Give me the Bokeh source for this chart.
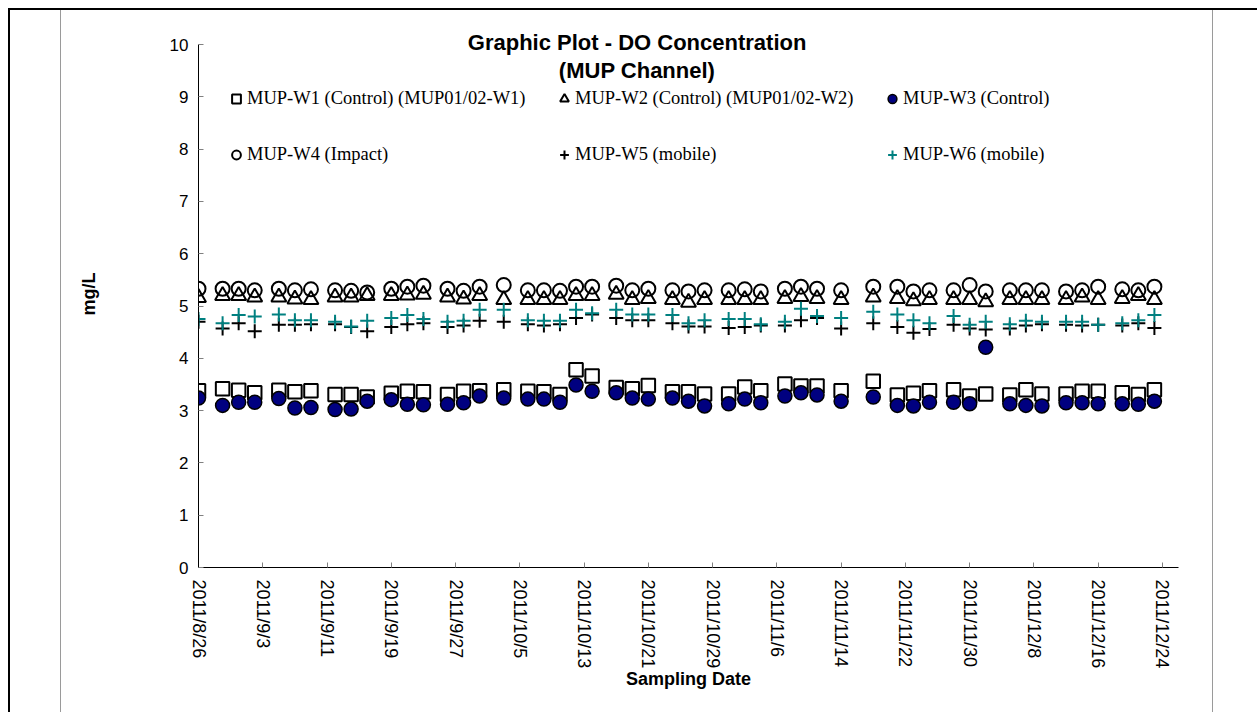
import pandas as pd
from bokeh.plotting import figure
from bokeh.models import FixedTicker, Legend, LegendItem, Label
from bokeh.embed import file_html
from bokeh.resources import INLINE

dates = ["2011-08-26", "2011-08-29", "2011-08-31", "2011-09-02", "2011-09-05", "2011-09-07", "2011-09-09",
         "2011-09-12", "2011-09-14", "2011-09-16", "2011-09-19", "2011-09-21", "2011-09-23", "2011-09-26",
         "2011-09-28", "2011-09-30", "2011-10-03", "2011-10-06", "2011-10-08", "2011-10-10", "2011-10-12",
         "2011-10-14", "2011-10-17", "2011-10-19", "2011-10-21", "2011-10-24", "2011-10-26", "2011-10-28",
         "2011-10-31", "2011-11-02", "2011-11-04", "2011-11-07", "2011-11-09", "2011-11-11", "2011-11-14",
         "2011-11-18", "2011-11-21", "2011-11-23", "2011-11-25", "2011-11-28", "2011-11-30", "2011-12-02",
         "2011-12-05", "2011-12-07", "2011-12-09", "2011-12-12", "2011-12-14", "2011-12-16", "2011-12-19",
         "2011-12-21", "2011-12-23"]

w1 = [3.38, 3.42, 3.39, 3.34, 3.39, 3.36, 3.38, 3.31, 3.31, 3.26, 3.33, 3.37, 3.36, 3.31, 3.37, 3.38, 3.40,
      3.37, 3.36, 3.31, 3.78, 3.66, 3.44, 3.42, 3.48, 3.36, 3.36, 3.32, 3.32, 3.45, 3.38, 3.51, 3.47, 3.47,
      3.38, 3.56, 3.30, 3.33, 3.38, 3.40, 3.28, 3.32, 3.30, 3.40, 3.32, 3.32, 3.37, 3.37, 3.34, 3.31, 3.40]
w2 = [5.16, 5.20, 5.20, 5.17, 5.17, 5.13, 5.12, 5.17, 5.17, 5.20, 5.20, 5.21, 5.22, 5.17, 5.13, 5.20, 5.12,
      5.12, 5.12, 5.12, 5.20, 5.20, 5.22, 5.12, 5.14, 5.12, 5.07, 5.12, 5.12, 5.12, 5.12, 5.14, 5.18, 5.14,
      5.12, 5.17, 5.14, 5.10, 5.12, 5.12, 5.12, 5.08, 5.12, 5.12, 5.12, 5.12, 5.17, 5.12, 5.14, 5.20, 5.12]
w3 = [3.24, 3.10, 3.16, 3.16, 3.23, 3.05, 3.06, 3.02, 3.03, 3.18, 3.21, 3.12, 3.11, 3.12, 3.15, 3.28, 3.24,
      3.22, 3.22, 3.16, 3.49, 3.37, 3.34, 3.24, 3.22, 3.24, 3.18, 3.09, 3.13, 3.22, 3.15, 3.28, 3.34, 3.30,
      3.18, 3.26, 3.10, 3.09, 3.16, 3.16, 3.13, 4.21, 3.13, 3.10, 3.09, 3.15, 3.15, 3.13, 3.13, 3.12, 3.18]
w4 = [5.33, 5.33, 5.33, 5.30, 5.33, 5.30, 5.32, 5.30, 5.29, 5.26, 5.33, 5.37, 5.39, 5.33, 5.29, 5.37, 5.40,
      5.30, 5.30, 5.29, 5.37, 5.37, 5.39, 5.30, 5.33, 5.30, 5.28, 5.30, 5.30, 5.32, 5.28, 5.33, 5.37, 5.33,
      5.30, 5.37, 5.37, 5.28, 5.30, 5.30, 5.40, 5.28, 5.30, 5.30, 5.30, 5.28, 5.30, 5.37, 5.32, 5.30, 5.37]
w5 = [4.70, 4.57, 4.67, 4.52, 4.64, 4.64, 4.65, 4.65, 4.60, 4.52, 4.60, 4.65, 4.67, 4.60, 4.63, 4.72, 4.70,
      4.65, 4.63, 4.65, 4.77, 4.84, 4.77, 4.73, 4.73, 4.67, 4.61, 4.61, 4.58, 4.60, 4.63, 4.63, 4.73, 4.77,
      4.57, 4.67, 4.60, 4.49, 4.56, 4.64, 4.57, 4.55, 4.57, 4.63, 4.65, 4.64, 4.63, 4.64, 4.63, 4.67, 4.58]
w6 = [4.75, 4.67, 4.83, 4.80, 4.84, 4.73, 4.73, 4.70, 4.61, 4.72, 4.77, 4.83, 4.75, 4.70, 4.72, 4.93, 4.93,
      4.73, 4.72, 4.72, 4.93, 4.86, 4.93, 4.84, 4.84, 4.83, 4.67, 4.73, 4.75, 4.75, 4.65, 4.70, 4.95, 4.81,
      4.77, 4.89, 4.84, 4.73, 4.67, 4.81, 4.64, 4.70, 4.65, 4.72, 4.70, 4.70, 4.70, 4.64, 4.67, 4.73, 4.83]

series_names = ["MUP-W1 (Control) (MUP01/02-W1)", "MUP-W2 (Control) (MUP01/02-W2)", "MUP-W3 (Control)",
                "MUP-W4 (Impact)", "MUP-W5 (mobile)", "MUP-W6 (mobile)"]

tick_dates = ["2011-08-26", "2011-09-03", "2011-09-11", "2011-09-19", "2011-09-27", "2011-10-05",
              "2011-10-13", "2011-10-21", "2011-10-29", "2011-11-06", "2011-11-14", "2011-11-22",
              "2011-11-30", "2011-12-08", "2011-12-16", "2011-12-24"]
tick_labels = ["2011/8/26", "2011/9/3", "2011/9/11", "2011/9/19", "2011/9/27", "2011/10/5", "2011/10/13",
               "2011/10/21", "2011/10/29", "2011/11/6", "2011/11/14", "2011/11/22", "2011/11/30",
               "2011/12/8", "2011/12/16", "2011/12/24"]
x_start, x_end = "2011-08-26", "2011-12-26"
y_ticks = list(range(0, 11))
y_min, y_max = 0, 10

origin = pd.Timestamp(x_start)
xs = [(pd.Timestamp(d) - origin).days for d in dates]
tx = [(pd.Timestamp(d) - origin).days for d in tick_dates]
x_max = (pd.Timestamp(x_end) - origin).days

SANS = "Liberation Sans"

# frame extends a little above 10 so the title (drawn inside it) is not clipped;
# the axis line itself is bounded to 0..10
p = figure(frame_width=980, frame_height=547, output_backend="svg", toolbar_location=None,
           x_range=(0, x_max), y_range=(y_min, 10.46),
           min_border_left=198, min_border_right=79, min_border_top=20, min_border_bottom=145)
p.outline_line_color = None
p.grid.visible = False
p.background_fill_color = "white"
p.border_fill_alpha = 0
p.styles = {
    "background": ("linear-gradient(black, black) 8px 8px / 2px 100% no-repeat, "
                   "linear-gradient(black, black) 8px 8px / 100% 2px no-repeat, "
                   "linear-gradient(#9a9a9a, #9a9a9a) 60px 10px / 1px 100% no-repeat, "
                   "linear-gradient(#9a9a9a, #9a9a9a) 1212px 10px / 1px 100% no-repeat, white"),
}

for ax in (p.xaxis[0], p.yaxis[0]):
    ax.axis_line_color = "black"
    ax.axis_line_width = 1
    ax.major_tick_line_color = "#808080"
    ax.major_tick_in = 5
    ax.major_tick_out = 0
    ax.minor_tick_line_color = None
    ax.major_label_text_font = SANS
    ax.major_label_text_color = "black"
    ax.axis_label_text_font = SANS
    ax.axis_label_text_font_style = "bold"
    ax.axis_label_text_font_size = "18px"
    ax.axis_label_text_color = "black"

p.xaxis.ticker = FixedTicker(ticks=tx)
p.xaxis.major_label_overrides = {t: l for t, l in zip(tx, tick_labels)}
p.xaxis.major_label_orientation = "vertical"
p.xaxis.major_label_text_font_size = "18px"
p.xaxis.major_label_standoff = 12
p.xaxis.axis_label = "Sampling Date"
p.xaxis.axis_label_standoff = -2

p.yaxis.ticker = FixedTicker(ticks=y_ticks)
p.yaxis.bounds = (y_min, y_max)
p.yaxis.major_label_text_font_size = "17px"
p.yaxis.major_label_standoff = 10
p.yaxis.axis_label = "mg/L"
p.yaxis.axis_label_standoff = 68

r1 = p.scatter(xs, w1, marker="square", size=13.5, fill_color=None, line_color="black", line_width=2)
r2 = p.scatter(xs, w2, marker="triangle", size=15, fill_color=None, line_color="black", line_width=2)
r3 = p.scatter(xs, w3, marker="circle", size=14, fill_color="#000080", line_color="black", line_width=1.5)
r4 = p.scatter(xs, w4, marker="circle", size=14, fill_color=None, line_color="black", line_width=2)
r5 = p.scatter(xs, w5, marker="cross", size=14, line_color="black", line_width=2)
r6 = p.scatter(xs, w6, marker="cross", size=14, line_color="#008080", line_width=2)

legend = Legend(items=[LegendItem(label=n, renderers=[r]) for n, r in zip(series_names, [r1, r2, r3, r4, r5, r6])],
                location=(27, 394), orientation="horizontal", ncols=3,
                glyph_width=22, glyph_height=37, label_height=37, label_width=287,
                label_standoff=-5, spacing=19, padding=0, margin=0,
                label_text_font="Liberation Serif", label_text_font_size="18.5px",
                label_text_color="black",
                border_line_color=None, background_fill_alpha=0)
p.add_layout(legend, "center")

p.add_layout(Label(x=54.6, y=10.04, text="Graphic Plot - DO Concentration", text_align="center",
                   text_baseline="middle", text_font=SANS, text_font_style="bold",
                   text_font_size="22px", text_color="black"))
p.add_layout(Label(x=54.6, y=9.50, text="(MUP Channel)", text_align="center",
                   text_baseline="middle", text_font=SANS, text_font_style="bold",
                   text_font_size="22px", text_color="black"))

open("out.html", "w").write(file_html(p, INLINE))
